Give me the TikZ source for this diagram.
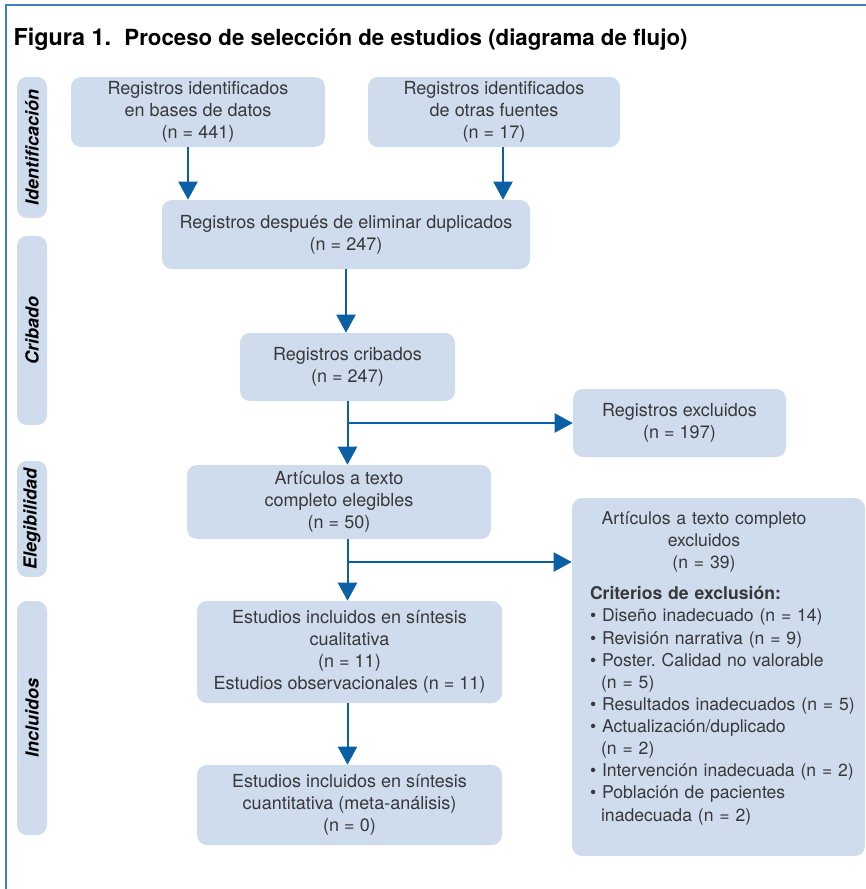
\documentclass[tikz,border=0pt]{standalone}
\usepackage{fontspec}
\setmainfont{TeX Gyre Heros}
\usetikzlibrary{arrows.meta}
\definecolor{boxblue}{HTML}{CFDCEE}
\definecolor{arrowblue}{HTML}{0B5FA5}
\definecolor{frameblue}{HTML}{3C82C3}
\definecolor{txtgray}{HTML}{383838}
\newcommand{\crit}[1]{\mbox{\textbullet\ #1}}
\frenchspacing
\begin{document}
\begin{tikzpicture}[x=0.75pt,y=-0.75pt,
    every node/.style={text=txtgray,font=\fontsize{13.5}{16.5}\selectfont},
    box/.style={fill=boxblue,rounded corners=7.5pt,align=center,inner sep=0pt},
    side/.style={box,rotate=90,minimum height=22.5pt,text=black,
        font=\fontsize{13.5}{16.5}\selectfont\bfseries\itshape},
    arr/.style={draw=arrowblue,line width=1.5pt,-{Triangle[width=14.25pt,length=13.5pt]}}]
    \useasboundingbox (0,0) rectangle (866,889);
    \draw[frameblue,line width=1.3pt] (866,5) -- (6,5) -- (6,889);
    \node[anchor=base west,text=black,font=\fontsize{16.7}{20}\selectfont\bfseries] (title) at (9,45)
        {{\fontsize{17.5}{20}\selectfont Figura 1.}\hspace{10pt}Proceso de selección de estudios (diagrama de flujo)};
    \node[side,minimum width=105.75pt] (ident) at (32,147.5) {Identificación};
    \node[side,minimum width=141.75pt] (crib) at (32,330.5) {Cribado};
    \node[side,minimum width=87pt] (eleg) at (32,519) {Elegibilidad};
    \node[side,minimum width=175.5pt] (incl) at (32,718) {Incluidos};
    \node[box,minimum width=190.5pt,minimum height=52.5pt] (bases) at (198,112)
        {Registros identificados\\en bases de datos\\(n = 441)};
    \node[box,minimum width=189pt,minimum height=52.5pt] (otras) at (494,112)
        {Registros identificados\\de otras fuentes\\(n = 17)};
    \node[box,minimum width=276pt,minimum height=51.75pt] (dupl) at (346,234.5)
        {Registros después de eliminar duplicados\\(n = 247)};
    \node[box,minimum width=161.25pt,minimum height=51pt] (cribados) at (347.5,367)
        {Registros cribados\\(n = 247)};
    \node[box,minimum width=159.75pt,minimum height=51pt] (excl) at (679.5,423)
        {Registros excluidos\\(n = 197)};
    \node[box,minimum width=228pt,minimum height=55.5pt] (elegibles) at (339,502)
        {Artículos a texto\\completo elegibles\\(n = 50)};
    \node[box,minimum width=228.75pt,minimum height=76.5pt] (cuali) at (349.5,652)
        {Estudios incluidos en síntesis\\cualitativa\\(n = 11)\\Estudios observacionales (n = 11)};
    \node[box,minimum width=228.75pt,minimum height=60pt] (cuanti) at (349.5,805)
        {Estudios incluidos en síntesis\\cuantitativa (meta-análisis)\\(n = 0)};
    \node[box,align=left,text width=192.75pt,inner xsep=13.5pt,minimum height=268.5pt,
        font=\fontsize{13.2}{16.6}\selectfont] (exclft) at (718.5,677)
        {\makebox[171pt]{Artículos a texto completo}\\
         \makebox[171pt]{excluidos}\\
         \makebox[171pt]{(n = 39)}\\[6.75pt]
         \textbf{Criterios de exclusión:}\\
         \crit{Diseño inadecuado (n = 14)}\\
         \crit{Revisión narrativa (n = 9)}\\
         \crit{Poster. Calidad no valorable}\\
         \hspace*{8.3pt}(n = 5)\\
         \crit{Resultados inadecuados (n = 5)}\\
         \crit{Actualización/duplicado}\\
         \hspace*{8.3pt}(n = 2)\\
         \crit{Intervención inadecuada (n = 2)}\\
         \crit{Población de pacientes}\\
         \hspace*{8.3pt}inadecuada (n = 2)\rule[-16pt]{0pt}{16pt}};
    \draw[arr] ([xshift=-7.5pt]bases.south) -- ([xshift=-7.5pt]bases.south |- dupl.north);
    \draw[arr] ([xshift=6.75pt]otras.south) -- ([xshift=6.75pt]otras.south |- dupl.north);
    \draw[arr] (dupl.south) -- (dupl.south |- cribados.north);
    \draw[arr] (cribados.south) -- (cribados.south |- elegibles.north);
    \draw[arr] (cribados.south |- excl.west) -- (excl.west);
    \draw[arr] (cribados.south |- elegibles.south) -- (cribados.south |- cuali.north);
    \coordinate (split) at (347.5,562);
    \draw[arr] (split) -- (split -| exclft.west);
    \draw[arr] (cribados.south |- cuali.south) -- (cribados.south |- cuanti.north);
\end{tikzpicture}
\end{document}
